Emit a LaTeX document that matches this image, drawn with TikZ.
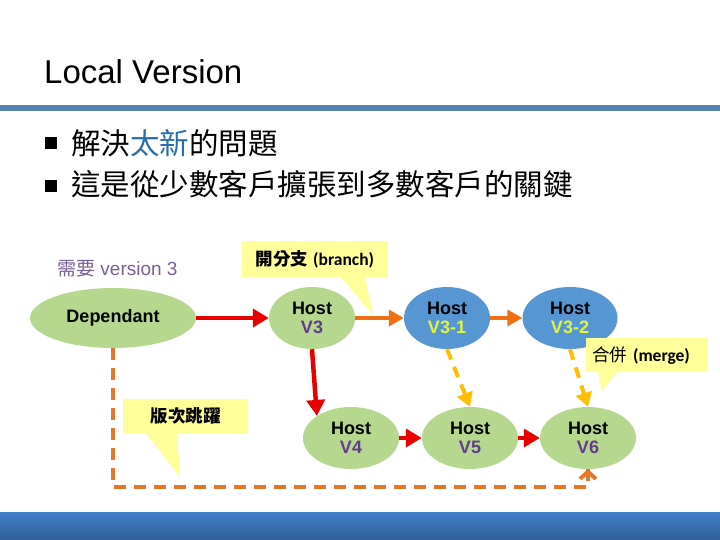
\documentclass[tikz,border=0pt]{standalone}
\usepackage{fontspec}
\setmainfont{Liberation Sans}
\newfontfamily\cjk{Noto Sans CJK TC}
\newfontfamily\calfont{Carlito}
\usetikzlibrary{arrows.meta,shapes.geometric,calc}
\definecolor{ngreen}{RGB}{182,216,142}
\definecolor{nblue}{RGB}{86,150,210}
\definecolor{vpurple}{RGB}{100,60,140}
\definecolor{vyellow}{RGB}{225,245,60}
\definecolor{cred}{RGB}{232,0,0}
\definecolor{corange}{RGB}{240,110,20}
\definecolor{cgold}{RGB}{255,190,0}
\definecolor{cdash}{RGB}{228,120,40}
\definecolor{cyel}{RGB}{255,255,153}
\definecolor{lineblue}{RGB}{86,131,182}
\definecolor{tblue}{RGB}{40,110,175}
\definecolor{needc}{RGB}{120,95,150}
\begin{document}
\begin{tikzpicture}[x=1pt,y=-1pt,
  hostn/.style={ellipse, fill=#1, inner sep=0pt, align=center,
    font=\fontsize{18}{20}\selectfont\bfseries},
  hostn/.default=ngreen,
  redarrow/.style={draw=cred, line width=4.5pt, -{Triangle[length=16pt,width=18pt]}},
  orarrow/.style={draw=corange, line width=4pt, -{Triangle[length=15pt,width=16pt]}},
  goldarrow/.style={draw=cgold, line width=4pt, dash pattern=on 11pt off 8pt, -{Triangle[length=14pt,width=16pt]}},
  odash/.style={draw=cdash, line width=4pt, dash pattern=on 12pt off 8pt},
  callbox/.style={fill=cyel, inner sep=0pt, font=\fontsize{17.5}{20}\selectfont},
]
\useasboundingbox (0,0) rectangle (720,540);

% title
\node[anchor=base west, inner sep=0pt, font=\fontsize{33}{36}\selectfont] (title) at (44,84) {Local Version};
\fill[lineblue] (0,105) rectangle (720,111);

% bullets
\node[fill=black, minimum size=12pt, inner sep=0pt] (b1) at (51,143) {};
\node[anchor=west, inner sep=0pt, font=\fontsize{29.5}{32}\selectfont\cjk] (t1) at (71,143) {解決{\color{tblue}太新}的問題};
\node[fill=black, minimum size=12pt, inner sep=0pt] (b2) at (51,186) {};
\node[anchor=west, inner sep=0pt, font=\fontsize{29.5}{32}\selectfont\cjk] (t2) at (71,184) {這是從少數客戶擴張到多數客戶的關鍵};

% need label
\node[anchor=west, inner sep=0pt, text=needc, font=\fontsize{19}{22}\selectfont] (need) at (57,269) {{\cjk 需要} version 3};

% nodes
\node[hostn, minimum width=166pt, minimum height=60pt] (dep) at (113,318) {Dependant};
\node[hostn, minimum width=86pt, minimum height=62pt] (h3) at (312,318) {Host\\[-1pt]{\color{vpurple}V3}};
\node[hostn=nblue, minimum width=86pt, minimum height=62pt] (h31) at (447,318) {Host\\[-1pt]{\color{vyellow}V3-1}};
\node[hostn=nblue, minimum width=95pt, minimum height=62pt] (h32) at (570,318) {Host\\[-1pt]{\color{vyellow}V3-2}};
\node[hostn, minimum width=96pt, minimum height=62pt] (h4) at (351,438) {Host\\[-1pt]{\color{vpurple}V4}};
\node[hostn, minimum width=96pt, minimum height=62pt] (h5) at (470,438) {Host\\[-1pt]{\color{vpurple}V5}};
\node[hostn, minimum width=96pt, minimum height=62pt] (h6) at (588,438) {Host\\[-1pt]{\color{vpurple}V6}};

% connectors
\draw[redarrow] (dep.east) -- (h3.west);
\draw[redarrow] (h3.south) -- (h4.north west);
\draw[redarrow] (h4.east) -- (h5.west);
\draw[redarrow] (h5.east) -- (h6.west);
\draw[orarrow] (h3.east) -- (h31.west);
\draw[orarrow] (h31.east) -- (h32.west);
\draw[goldarrow] (h31.south) -- (h5.north);
\draw[goldarrow] (h32.south) -- (h6.north);
\coordinate (low) at (0,487);
\draw[odash] (dep.south) -- (dep.south |- low) -- (h6.south |- low) -- (h6.south);
\draw[draw=cdash, line width=4pt, -{Straight Barb[length=7pt,width=16pt]}] ($(h6.south)+(0,12)$) -- (h6.south);

% callouts
\node[callbox, minimum width=146pt, minimum height=36pt] (branch) at (315,259) {{\cjk\bfseries 開分支} {\calfont\bfseries (branch)}};
\coordinate (btip) at (373,315);
\fill[cyel] (340,276) -- (btip) -- (365,276) -- cycle;

\node[callbox, anchor=north west, minimum width=122pt, minimum height=34pt, text width=110pt, align=left, inner xsep=6pt] (merge) at (586,338) {{\cjk 合併} {\calfont\bfseries (merge)}};
\coordinate (mtip) at (602,391);
\fill[cyel] (598,371) -- (mtip) -- (618,371) -- cycle;

\node[callbox, minimum width=125pt, minimum height=34pt] (jump) at (185.5,416) {\cjk\bfseries 版次跳躍};
\coordinate (jtip) at (180,477);
\fill[cyel] (145,432) -- (jtip) -- (177,432) -- cycle;

% bottom bar
\shade[top color={rgb,255:red,66;green,128;blue,202}, bottom color={rgb,255:red,48;green,94;blue,152}] (0,512) rectangle (720,540);
\end{tikzpicture}
\end{document}
